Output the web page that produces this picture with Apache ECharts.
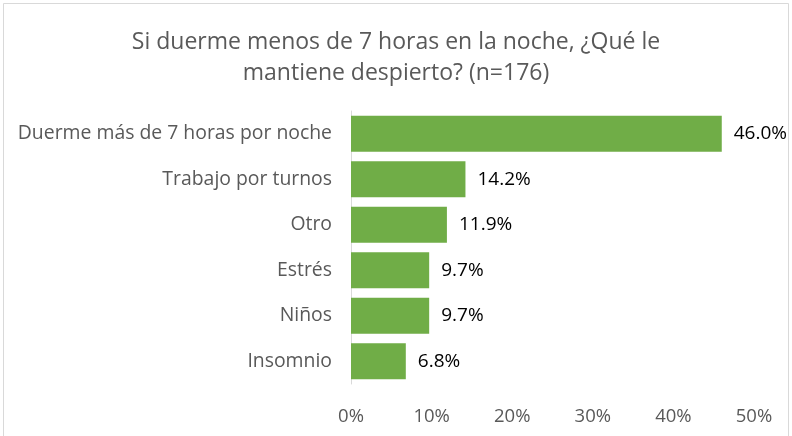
<!DOCTYPE html>
<html>
<head>
<meta charset="utf-8">
<script src="https://cdn.jsdelivr.net/npm/echarts@6/dist/echarts.min.js"></script>
<style>
html,body{margin:0;padding:0;background:#fff;}
#c{width:792px;height:436px;box-sizing:border-box;}
</style>
</head>
<body>
<div id="c"></div>
<script>
const titleText = "Si duerme menos de 7 horas en la noche, ¿Qué le\nmantiene despierto? (n=176)";
const categories = ["Duerme más de 7 horas por noche","Trabajo por turnos","Otro","Estrés","Niños","Insomnio"];
const values = [46.0, 14.2, 11.9, 9.7, 9.7, 6.8];
const xTicks = [0, 10, 20, 30, 40, 50];

const chart = echarts.init(document.getElementById('c'), null, {renderer:'canvas'});
const FONT = '"Open Sans"';
chart.setOption({
  animation:false,
  backgroundColor:'#ffffff',
  graphic:[{type:'rect',shape:{x:3.5,y:3.5,width:785,height:440},style:{fill:'none',stroke:'#d9d9d9',lineWidth:1},silent:true}],
  title:{
    text:titleText,
    left:'center', top:22,
    textStyle:{fontFamily:FONT,fontSize:23,fontWeight:'normal',color:'#595959',lineHeight:31}
  },
  grid:{left:351,right:38,top:111,bottom:52,containLabel:false},
  xAxis:{
    type:'value', min:xTicks[0], max:xTicks[xTicks.length-1], interval:10,
    axisLine:{show:false}, axisTick:{show:false}, splitLine:{show:false},
    axisLabel:{formatter:v=>v+'%',fontFamily:FONT,fontSize:18.5,color:'#595959',margin:23}
  },
  yAxis:{
    type:'category', data:categories, inverse:true,
    axisLine:{show:true,lineStyle:{color:'#d9d9d9',width:1}},
    axisTick:{show:false},
    axisLabel:{fontFamily:FONT,fontSize:19.4,color:'#595959',margin:19}
  },
  series:[{
    type:'bar', data:values, barCategoryGap:'21%',
    itemStyle:{color:'#70ad47'},
    label:{show:true,position:'right',distance:12,formatter:p=>p.value.toFixed(1)+'%',
      fontFamily:FONT,fontSize:19,color:'#000000'}
  }]
});
</script>
</body>
</html>
